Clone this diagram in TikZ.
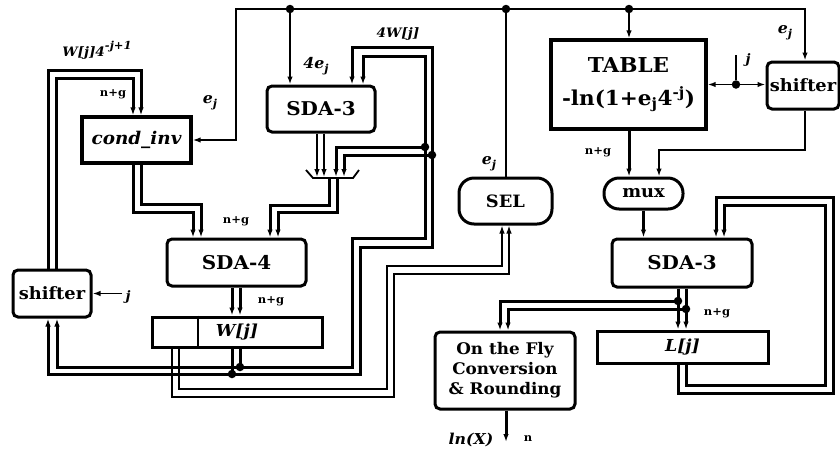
\documentclass[tikz,border=0pt]{standalone}
\usepackage{fontspec}
\setmainfont{DejaVu Serif}[FakeStretch=1.05]
\usetikzlibrary{arrows.meta}
\newcommand{\lowj}{\raisebox{-4pt}{\fontsize{11}{11}\selectfont j}}
\begin{document}
\begin{tikzpicture}[x=1pt,y=-1pt,
  >={Latex[length=8pt,width=5.5pt]},
  rbox/.style={draw,line width=3pt,rounded corners=5pt,inner sep=0pt,font=\fontsize{19}{22}\selectfont\bfseries},
  sbox/.style={draw,line width=3.3pt,inner sep=0pt,font=\fontsize{19}{22}\selectfont\bfseries},
  sig/.style={line width=1.8pt},
  thk/.style={line width=3pt},
  dbl/.style={line width=3pt},
  thin1/.style={line width=1.3pt},
  lab/.style={font=\fontsize{13}{15}\selectfont\bfseries\itshape,inner sep=0pt},
  nlab/.style={font=\fontsize{11}{13}\selectfont\bfseries,inner sep=0pt},
  dot/.style={circle,fill,inner sep=0pt,minimum size=8.5pt}
]
\useasboundingbox (0,0) rectangle (840,456);

% ---- nodes ----
\node[sbox,minimum width=109pt,minimum height=46pt,font=\fontsize{17.5}{20}\selectfont\bfseries\itshape] (cinv) at (136.5,140) {cond\_inv};
\node[sbox,minimum width=155pt,minimum height=89pt,align=center,font=\fontsize{20.5}{33}\selectfont\bfseries] (table) at (628.5,84.5) {TABLE\\-ln(1+e\textsubscript{j}4\textsuperscript{-j})};
\node[rbox,minimum width=108pt,minimum height=46pt] (sda3a) at (321,109) {SDA-3};
\node[rbox,minimum width=139pt,minimum height=47pt] (sda4) at (236.5,262.5) {SDA-4};
\node[rbox,minimum width=78pt,minimum height=47pt,font=\fontsize{17}{20}\selectfont\bfseries] (lsh) at (52,293.5) {shifter};
\node[rbox,minimum width=72pt,minimum height=47pt,font=\fontsize{17}{20}\selectfont\bfseries] (rsh) at (803,85.5) {shifter};
\node[sbox,line width=3pt,minimum width=170pt,minimum height=30pt,font=\fontsize{16.5}{20}\selectfont\bfseries\itshape] (w) at (237,332) {W[j]};
\node[rbox,rounded corners=15pt,minimum width=93pt,minimum height=46pt,font=\fontsize{17}{20}\selectfont\bfseries] (sel) at (505.5,201) {SEL};
\node[rbox,rounded corners=15pt,minimum width=79pt,minimum height=31pt,font=\fontsize{17}{20}\selectfont\bfseries] (mux) at (643.5,193.5) {mux};
\node[rbox,minimum width=140pt,minimum height=48pt] (sda3b) at (682,263) {SDA-3};
\node[sbox,line width=3pt,minimum width=171pt,minimum height=32pt,font=\fontsize{16.5}{20}\selectfont\bfseries\itshape] (lj) at (682.5,347) {L[j]};
\node[rbox,minimum width=140pt,minimum height=77pt,align=center,font=\fontsize{16}{20}\selectfont\bfseries] (otf) at (505,370.5) {On the Fly\\Conversion\\\& Rounding};

\draw[line width=1.8pt] (198,0 |- w.north) -- (198,0 |- w.south);

% ---- top bus ----
\draw[sig,<->] (cinv.east) -| (236,9) -| (805,0 |- rsh.north);
\draw[sig,->] (290,9) -- (290,0 |- sda3a.north);
\draw[sig] (506,9) -- (506,0 |- sel.north);
\draw[sig,->] (629,9) -- (629,0 |- table.north);
\node[dot] (d1) at (290,9) {};
\node[dot] (d2) at (506,9) {};
\node[dot] (d3) at (629,9) {};

% ---- j to table / right shifter ----
\draw[sig,<->] (table.east) -- (table.east -| rsh.west);
\node[dot] (jdot) at (736,84.5) {};
\coordinate (jtop) at (736,55);
\draw[sig] (jdot) -- (jtop);

% ---- right side ----
\draw[sig,->] (805,0 |- rsh.south) |- (659,150) -- (659,0 |- mux.north);
\draw[thk,->] (629,0 |- table.south) -- (629,0 |- mux.north);
\draw[thk,->] (mux.south) -- (mux.south |- sda3b.north);
\draw[dbl,->] (678,0 |- sda3b.south) -- (678,0 |- lj.north);
\draw[dbl,->] (686,0 |- sda3b.south) -- (686,0 |- lj.north);
\draw[dbl,->] (678,301) -| (500,0 |- otf.north);
\draw[dbl,->] (686,309) -| (508,0 |- otf.north);
\node[dot] (d4) at (678,301) {};
\node[dot] (d5) at (686,309) {};
\draw[dbl,->] (678,0 |- lj.south) |- (833,393) |- (716,197) -- (716,0 |- sda3b.north);
\draw[dbl,->] (686,0 |- lj.south) |- (825,385) |- (724,205) -- (724,0 |- sda3b.north);
\coordinate (lnx) at (506,442);
\draw[thk,->] (506,0 |- otf.south) -- (lnx);

% ---- left side ----
\draw[dbl,->] (133,0 |- cinv.south) |- (193,212) -- (193,0 |- sda4.north);
\draw[dbl,->] (141,0 |- cinv.south) |- (201,204) -- (201,0 |- sda4.north);
\draw[dbl,->] (48,0 |- lsh.north) |- (141,70) -- (141,0 |- cinv.north);
\draw[dbl,->] (56,0 |- lsh.north) |- (133,78) -- (133,0 |- cinv.north);

% SDA-3 outputs to adder
\draw[thin1,->] (317,0 |- sda3a.south) -- (317,177);
\draw[thin1,->] (324,0 |- sda3a.south) -- (324,177);
\coordinate (add) at (332,178);
\draw[sig] (306,170) -- (313,178) -- (353,178) -- (359,170);
\draw[dbl,->] (425,147) -| (336,177);
\draw[dbl,->] (432,155) -| (344,177);
\draw[dbl,->] (329,178) |- (270,205) -- (270,0 |- sda4.north);
\draw[dbl,->] (337,178) |- (278,212) -- (278,0 |- sda4.north);

% big W[j] loops
\draw[dbl,<->] (363,0 |- sda3a.north) |- (425,56) |- (352,238) |- (57,367) -- (57,0 |- lsh.south);
\draw[dbl,<->] (352,0 |- sda3a.north) |- (432,47) |- (360,247) |- (48,374) -- (48,0 |- lsh.south);
\node[dot] (d6) at (425,147) {};
\node[dot] (d7) at (432,155) {};

\draw[dbl,->] (232,0 |- sda4.south) -- (232,0 |- w.north);
\draw[dbl,->] (240,0 |- sda4.south) -- (240,0 |- w.north);
\draw[dbl] (232,0 |- w.south) -- (232,374);
\draw[dbl] (240,0 |- w.south) -- (240,367);
\node[dot] (d8) at (232,374) {};
\node[dot] (d9) at (240,367) {};

% W[j] low part to SEL
\draw[thin1,->] (179,0 |- w.south) |- (387,389) |- (502,266) -- (502,0 |- sel.south);
\draw[thin1,->] (172,0 |- w.south) |- (394,397) |- (509,274) -- (509,0 |- sel.south);

% j into left shifter
\coordinate (jl) at (122,293.5);
\draw[sig,->] (jl) -- (lsh.east);

% ---- labels ----
\node[lab] (l1) at (97,50) {W[j]4\raisebox{7pt}{\fontsize{11}{11}\selectfont -j+1}};
\node[nlab] (l2) at (113,94) {n+g};
\node[lab,font=\fontsize{15}{16}\selectfont\bfseries\itshape] (l3) at (210,103) {e\lowj};
\node[lab,font=\fontsize{15}{16}\selectfont\bfseries\itshape] (l4) at (316,66) {4e\lowj};
\node[lab] (l5) at (398,34) {4W[j]};
\node[nlab] (l6) at (236,221) {n+g};
\node[nlab] (l7) at (271,301) {n+g};
\node[lab,font=\fontsize{15}{16}\selectfont\bfseries\itshape] (l8) at (489,164) {e\lowj};
\node[lab,font=\fontsize{15}{16}\selectfont\bfseries\itshape] (l9) at (785,33) {e\lowj};
\node[lab] (l10) at (748,60) {j};
\node[nlab] (l11) at (598,152) {n+g};
\node[nlab] (l12) at (717,313) {n+g};
\node[lab,font=\fontsize{15}{18}\selectfont\bfseries\itshape] (l13) at (471,440) {ln(X)};
\node[nlab] (l14) at (528,439) {n};
\node[lab] (l15) at (128,297) {j};
\end{tikzpicture}
\end{document}
